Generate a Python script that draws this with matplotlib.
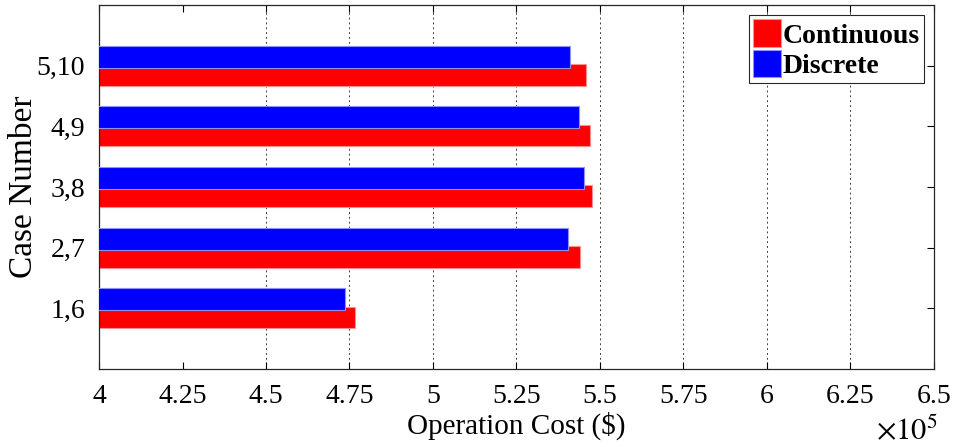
import numpy as np
from matplotlib import pyplot as plt

# 数据
cases = ['1,6', '2,7', '3,8', '4,9', '5,10']
continuous = [4.766, 5.440, 5.476, 5.470, 5.458]
discrete = [4.737, 5.405, 5.451, 5.438, 5.411]
xticks = [4, 4.25, 4.5, 4.75, 5, 5.25, 5.5, 5.75, 6, 6.25, 6.5]
xtick_labels = ['4', '4.25', '4.5', '4.75', '5', '5.25', '5.5', '5.75', '6', '6.25', '6.5']

plt.rcParams['font.family'] = ['Liberation Serif', 'DejaVu Serif']
plt.rcParams['mathtext.fontset'] = 'stix'

figure = plt.figure(figsize=(9.54, 4.47), dpi=100)
ax = figure.add_axes([0.1038, 0.1745, 0.875, 0.814])

y = np.arange(1, len(cases) + 1)
h = 0.36
off = 0.15

# 网格线（只画 4.5 以后）
for gx in xticks[2:-1]:
    ax.axvline(gx, color='#404040', linestyle=(0, (2, 3)), linewidth=0.7, zorder=0)

ax.barh(y - off, continuous, height=h, left=0, color='#ff0000', edgecolor='#ff9090',
        linewidth=0.8, label='Continuous', zorder=2)
ax.barh(y + off, discrete, height=h, left=0, color='#0000ff', edgecolor='#9090ff',
        linewidth=0.8, label='Discrete', zorder=3)

ax.set_xlim(4, 6.5)
ax.set_ylim(0, 6)
ax.set_xticks(xticks)
ax.set_xticklabels(xtick_labels)
ax.set_yticks(y)
ax.set_yticklabels(cases)
ax.tick_params(direction='in', top=True, right=True, labelsize=20, length=5, width=0.8)
ax.tick_params(axis='x', pad=11)
ax.tick_params(axis='y', pad=10)
for s in ax.spines.values():
    s.set_linewidth(0.9)
    s.set_color('#262626')

ax.set_xlabel('Operation Cost ($)', fontsize=21, labelpad=2)
ax.set_ylabel('Case Number', fontsize=24)
ax.yaxis.set_label_coords(-0.072, 0.5)
figure.text(0.918, 0.016, r'$\times 10^5$', fontsize=22, va='baseline')

leg = ax.legend(loc='upper right', bbox_to_anchor=(0.988, 0.9725), prop={'weight': 'bold', 'size': 20},
                handlelength=1.0, handleheight=1.15, handletextpad=0.05, borderpad=0.15,
                labelspacing=0.05, borderaxespad=0, fancybox=False, framealpha=1, edgecolor='#262626')
leg.get_frame().set_linewidth(0.8)

figure.savefig('out.png', dpi=100)
